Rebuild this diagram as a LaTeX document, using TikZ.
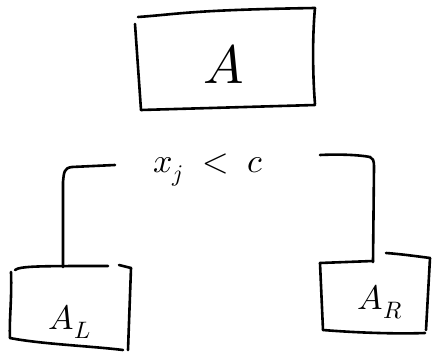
\documentclass[tikz,border=0pt]{standalone}
\usepackage{unicode-math}
\setmathfont{Latin Modern Math}
\begin{document}
\begin{tikzpicture}[x=1pt,y=-1pt,
  ink/.style={line width=2.6pt,line cap=round,line join=round,black},
  lbl/.style={inner sep=0pt,font=\fontsize{34}{40}\selectfont},
  biglbl/.style={inner sep=0pt,font=\fontsize{54}{60}\selectfont}]
\useasboundingbox (0,0) rectangle (434,358);

% parent box
\node[biglbl] (A) at (224,64) {$A$};
\draw[ink] (138,17) .. controls (180,14) and (190,10) .. (315,8);
\draw[ink] (135,24) -- (141,110);
\draw[ink] (141,110) -- (315,105);
\draw[ink] (315,8) .. controls (312,40) and (313,80) .. (315,104);

% split condition
\node[lbl] (split) at (208,170) {$x_j\;<\;c$};

% left child box
\node[lbl] (AL) at (70,322) {$A_L$};
\coordinate (ALtop) at (63,267);
\draw[ink] (15,270) .. controls (20,266) and (40,266) .. (108,266);
\draw[ink] (119,265) -- (131,268);
\draw[ink] (11,272) .. controls (12,300) and (9,320) .. (10,338);
\draw[ink] (10,338) .. controls (40,344) and (90,346) .. (123,350);
\draw[ink] (131,268) -- (128,350);

% right child box
\node[lbl] (AR) at (380,302) {$A_R$};
\coordinate (ARtop) at (373,262);
\draw[ink] (320,263) -- (373,261);
\draw[ink] (386,253) .. controls (400,254) and (415,256) .. (430,258);
\draw[ink] (320,263) -- (323,330);
\draw[ink] (323,330) .. controls (360,333) and (400,334) .. (425,333);
\draw[ink] (430,258) -- (426,330);

% branches from the condition to the children
\coordinate (lend) at (115,165);
\coordinate (rend) at (320,155);
\draw[ink] (lend) -- (72,167) .. controls (64,168) and (64,172) .. (63,182) -- (ALtop);
\draw[ink] (rend) .. controls (340,154) and (360,155) .. (370,157) .. controls (373,158) and (374,160) .. (374,168) -- (ARtop);
\end{tikzpicture}
\end{document}
